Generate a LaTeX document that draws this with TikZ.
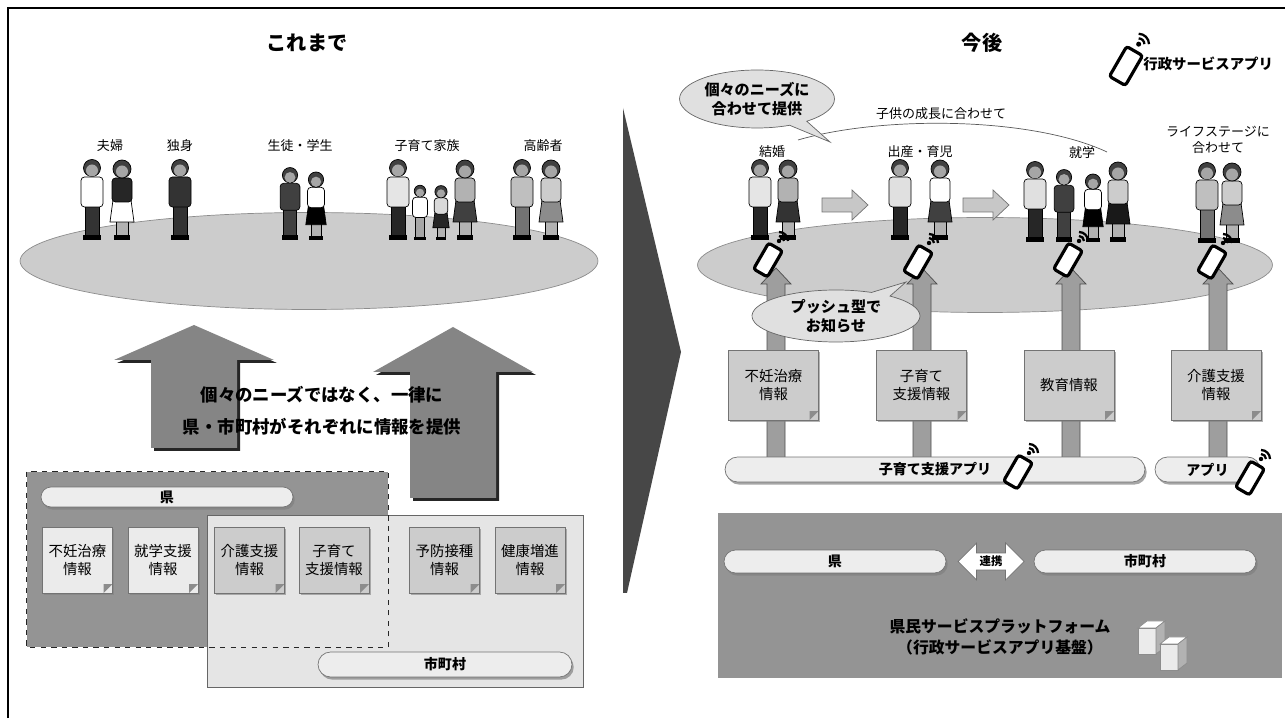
\documentclass[tikz,border=0pt]{standalone}
\usepackage{fontspec}
\setmainfont{Noto Sans CJK JP}
\usetikzlibrary{shapes.geometric,shapes.misc,shapes.callouts,shapes.arrows,shadows}

\tikzset{
  % people standing on the stage, feet at (0,0)
  pics/man/.style 2 args={code={
      \filldraw[fill=#2, draw=black] (-7,-36) rectangle (7,-4);
      \fill (-9,-5) rectangle (9,0);
      \filldraw[fill=#1, draw=black, rounded corners=2pt] (-11,-63) rectangle (11,-33);
      \filldraw[fill=black!75, draw=black] (0,-72) circle (8.5);
      \fill[black!35] (0,-69.5) circle (6);
  }},
  pics/woman/.style 2 args={code={
      \filldraw[fill=black!30, draw=black] (-6,-20) rectangle (6,-4);
      \fill (-8,-5) rectangle (8,0);
      \filldraw[fill=#2, draw=black] (-9,-40) -- (9,-40) -- (12,-18) -- (-12,-18) -- cycle;
      \filldraw[fill=#1, draw=black, rounded corners=2pt] (-10,-62) rectangle (10,-38);
      \filldraw[fill=black!75, draw=black] (0,-71) circle (9);
      \fill[black!35] (0,-68.5) circle (6);
  }},
  % smartphone with wifi mark
  pics/phone/.style={code={
      \draw[line width=1.8pt, rounded corners=1.5pt, fill=white, rotate=-30] (-8,-15) rectangle (8,15);
      \fill (11,-19) circle (2.2);
      \draw[line width=1.3pt] (11,-19) ++(5,0) arc (0:-90:5);
      \draw[line width=1.3pt] (11,-19) ++(9,0) arc (0:-90:9);
  }}
}

\begin{document}
\begin{tikzpicture}[x=0.02cm, y=-0.02cm,
    lbl/.style={font=\fontsize{7.4}{9}\selectfont},
    ttl/.style={font=\bfseries\fontsize{11.5}{13}\selectfont},
    msgtxt/.style={font=\bfseries\fontsize{9.9}{12}\selectfont},
    stage/.style={ellipse, draw=black!45, fill=black!20, inner sep=0pt},
    card/.style={draw=black!55, fill=black!20, align=center, inner sep=1pt,
        font=\fontsize{8.2}{10}\selectfont,
        drop shadow={shadow xshift=1pt, shadow yshift=-1pt, opacity=0.6},
        path picture={\fill[black!45] ([xshift=-5pt]path picture bounding box.south east)
            -- ([yshift=5pt]path picture bounding box.south east)
            -- ([xshift=-5pt,yshift=5pt]path picture bounding box.south east) -- cycle;}},
    pill/.style={rounded rectangle, draw=black!55, fill=black!7, inner sep=0pt,
        font=\bfseries\fontsize{8}{9}\selectfont,
        drop shadow={shadow xshift=1pt, shadow yshift=-1.5pt, opacity=0.7}},
    bubble/.style={ellipse callout, draw=black!60, fill=black!12, align=center, inner sep=0pt,
        font=\bfseries\fontsize{8.6}{10.5}\selectfont}
  ]
\useasboundingbox (0,0) rectangle (1285,722);

% frame and the big chevron
\draw[line width=1.2pt] (8,718) -- (8,8) -- (1285,8);
\fill[black!72] (623,108) -- (681,352) -- (627,593) -- (623,593) -- cycle;

\node[ttl] (past) at (307,43) {これまで};
\node[ttl] (future) at (982,43) {今後};

%%% left half
\node[stage, minimum width=11.56cm, minimum height=1.94cm] (stageL) at (309,261) {};

\foreach \x/\t [count=\i] in {110/夫婦, 180/独身, 300/生徒・学生, 427/子育て家族, 543/高齢者}
    \node[lbl] (grp\i) at (\x,146) {\t};

\pic at (92,240) {man={white}{black!80}};
\pic at (122,240) {woman={black!85}{white}};
\pic at (180,240) {man={black!80}{black!80}};
\pic[scale=0.9] at (290,240) {man={black!75}{black!75}};
\pic[scale=0.85] at (316,240) {woman={white}{black}};
\pic at (398,240) {man={black!10}{black!85}};
\pic[scale=0.68] at (420,240) {man={white}{black!35}};
\pic[scale=0.68] at (441,240) {woman={black!15}{black!85}};
\pic at (465,240) {woman={black!30}{black!75}};
\pic at (522,240) {man={black!25}{black!55}};
\pic at (551,240) {woman={black!20}{black!45}};

% two up arrows
\foreach \c/\t/\b/\e in {194/325/360/448, 453/327/372/498}{
    \fill[black!85, shift={(3,3)}] (\c,\t) -- (\c+80,\b) -- (\c+43,\b) -- (\c+43,\e)
        -- (\c-43,\e) -- (\c-43,\b) -- (\c-80,\b) -- cycle;
    \fill[black!48] (\c,\t) -- (\c+80,\b) -- (\c+43,\b) -- (\c+43,\e)
        -- (\c-43,\e) -- (\c-43,\b) -- (\c-80,\b) -- cycle;
}
\node[msgtxt] (msg1) at (322,395) {個々のニーズではなく、一律に};
\node[msgtxt] (msg2) at (322,427) {県・市町村がそれぞれに情報を提供};

% prefecture / municipality boxes
\node[fill=black!42, minimum width=7.22cm, minimum height=3.5cm, inner sep=0pt] (prefL) at (207.5,559.5) {};
\node[fill=black!10, draw=black!60, minimum width=7.52cm, minimum height=3.44cm, inner sep=0pt] (muniL) at (395,601) {};
\draw[black!85, dashed, thick] (prefL.north west) rectangle (prefL.south east);

\node[pill, minimum width=5.04cm, minimum height=0.4cm] (prefLbl) at (167,497) {県};
\node[pill, minimum width=5.08cm, minimum height=0.5cm] (muniLbl) at (445,664.5) {市町村};

\foreach \x/\t/\f [count=\i] in {77.5/不妊治療\\情報/black!8, 163/就学支援\\情報/black!8,
        249.5/介護支援\\情報/black!20, 334/子育て\\支援情報/black!20,
        444.5/予防接種\\情報/black!20, 530/健康増進\\情報/black!20}
    \node[card, fill=\f, minimum width=1.4cm, minimum height=1.32cm] (info\i) at (\x,560) {\t};

%%% right half
\node[stage, minimum width=11.5cm, minimum height=1.9cm] (stageR) at (985,265) {};

\node[lbl] (marry) at (772,152) {結婚};
\node[lbl] (birth) at (920,152) {出産・育児};
\node[lbl] (school) at (1082,153) {就学};
\node[lbl, align=center] (life) at (1218,140) {ライフステージに\\合わせて};

\coordinate (arcA) at (798,140);
\coordinate (arcB) at (1107,152);
\draw[black!65] (arcA) .. controls (880,116) and (1030,116) .. (arcB);
\node[lbl] (growth) at (941,114) {子供の成長に合わせて};

\pic at (760,240) {man={black!10}{black!85}};
\pic at (788,240) {woman={black!30}{black!80}};
\pic at (900,240) {man={black!12}{black!85}};
\pic at (940,240) {woman={white}{black!75}};
\pic at (1035,242) {man={black!12}{black!85}};
\pic[scale=0.9] at (1064,242) {man={black!75}{black!75}};
\pic[scale=0.85] at (1093,242) {woman={white}{black}};
\pic at (1118,242) {woman={black!20}{black!90}};
\pic at (1207,243) {man={black!25}{black!55}};
\pic at (1232,243) {woman={black!20}{black!45}};

% stage to stage arrows
\foreach \s in {822,963}
    \filldraw[fill=black!22, draw=black!55] (\s,198) -- (\s+30,198) -- (\s+30,190) -- (\s+46,205)
        -- (\s+30,220) -- (\s+30,212) -- (\s,212) -- cycle;

% push bars from the apps
\foreach \c in {776,922,1071,1218}
    \filldraw[fill=black!38, draw=black!70] (\c-9,470) -- (\c-9,284) -- (\c-15,284) -- (\c,268)
        -- (\c+15,284) -- (\c+9,284) -- (\c+9,470) -- cycle;

\foreach \x/\y in {768/260, 918/262, 1068/260, 1212/262}
    \pic at (\x,\y) {phone};

\node[bubble, minimum width=3.1cm, minimum height=1.16cm, callout absolute pointer={(830,142)}] (need) at (757,99) {個々のニーズに\\合わせて提供};
\node[bubble, minimum width=3.36cm, minimum height=1.04cm, callout absolute pointer={(906,282)}] (push) at (836,316) {プッシュ型で\\お知らせ};

\foreach \x/\t [count=\i] in {773.5/不妊治療\\情報, 921.5/子育て\\支援情報, 1069/教育情報, 1216/介護支援\\情報}
    \node[card, minimum width=1.8cm, minimum height=1.4cm] (svc\i) at (\x,385) {\t};

\node[pill, minimum width=8.4cm, minimum height=0.5cm] (kosodate) at (935,469.5) {子育て支援アプリ};
\node[pill, minimum width=2.1cm, minimum height=0.5cm] (app) at (1207.5,469.5) {アプリ};
\pic at (1018,472) {phone};
\pic at (1250,478) {phone};

% legend
\pic[scale=1.15] at (1126,66) {phone};
\node[anchor=west, inner sep=0pt, font=\bfseries\fontsize{8.2}{10}\selectfont] (legend) at (1143,64) {行政サービスアプリ};

% platform
\node[fill=black!42, minimum width=11.28cm, minimum height=3.3cm, inner sep=0pt] (platform) at (1000,595.5) {};
\node[pill, minimum width=4.44cm, minimum height=0.46cm] (prefR) at (835,561.5) {県};
\node[pill, minimum width=4.44cm, minimum height=0.46cm] (muniR) at (1145,561.5) {市町村};
\node[double arrow, draw=black!55, fill=white, double arrow head extend=0.2cm, minimum height=1.32cm,
      inner sep=1.5pt, font=\bfseries\fontsize{6.5}{7}\selectfont] (link) at (991,561.5) {連携};
\node[align=center, font=\bfseries\fontsize{9}{11.5}\selectfont] (pfname) at (1000,637) {県民サービスプラットフォーム\\（行政サービスアプリ基盤）};

% server blocks
\foreach \x/\y in {1138/628, 1160/644}{
    \filldraw[fill=black!8, draw=black!45] (\x,\y) rectangle (\x+18,\y+26);
    \filldraw[fill=white, draw=black!45] (\x,\y) -- (\x+9,\y-7) -- (\x+27,\y-7) -- (\x+18,\y) -- cycle;
    \filldraw[fill=black!30, draw=black!45] (\x+18,\y) -- (\x+27,\y-7) -- (\x+27,\y+19) -- (\x+18,\y+26) -- cycle;
}
\end{tikzpicture}
\end{document}
